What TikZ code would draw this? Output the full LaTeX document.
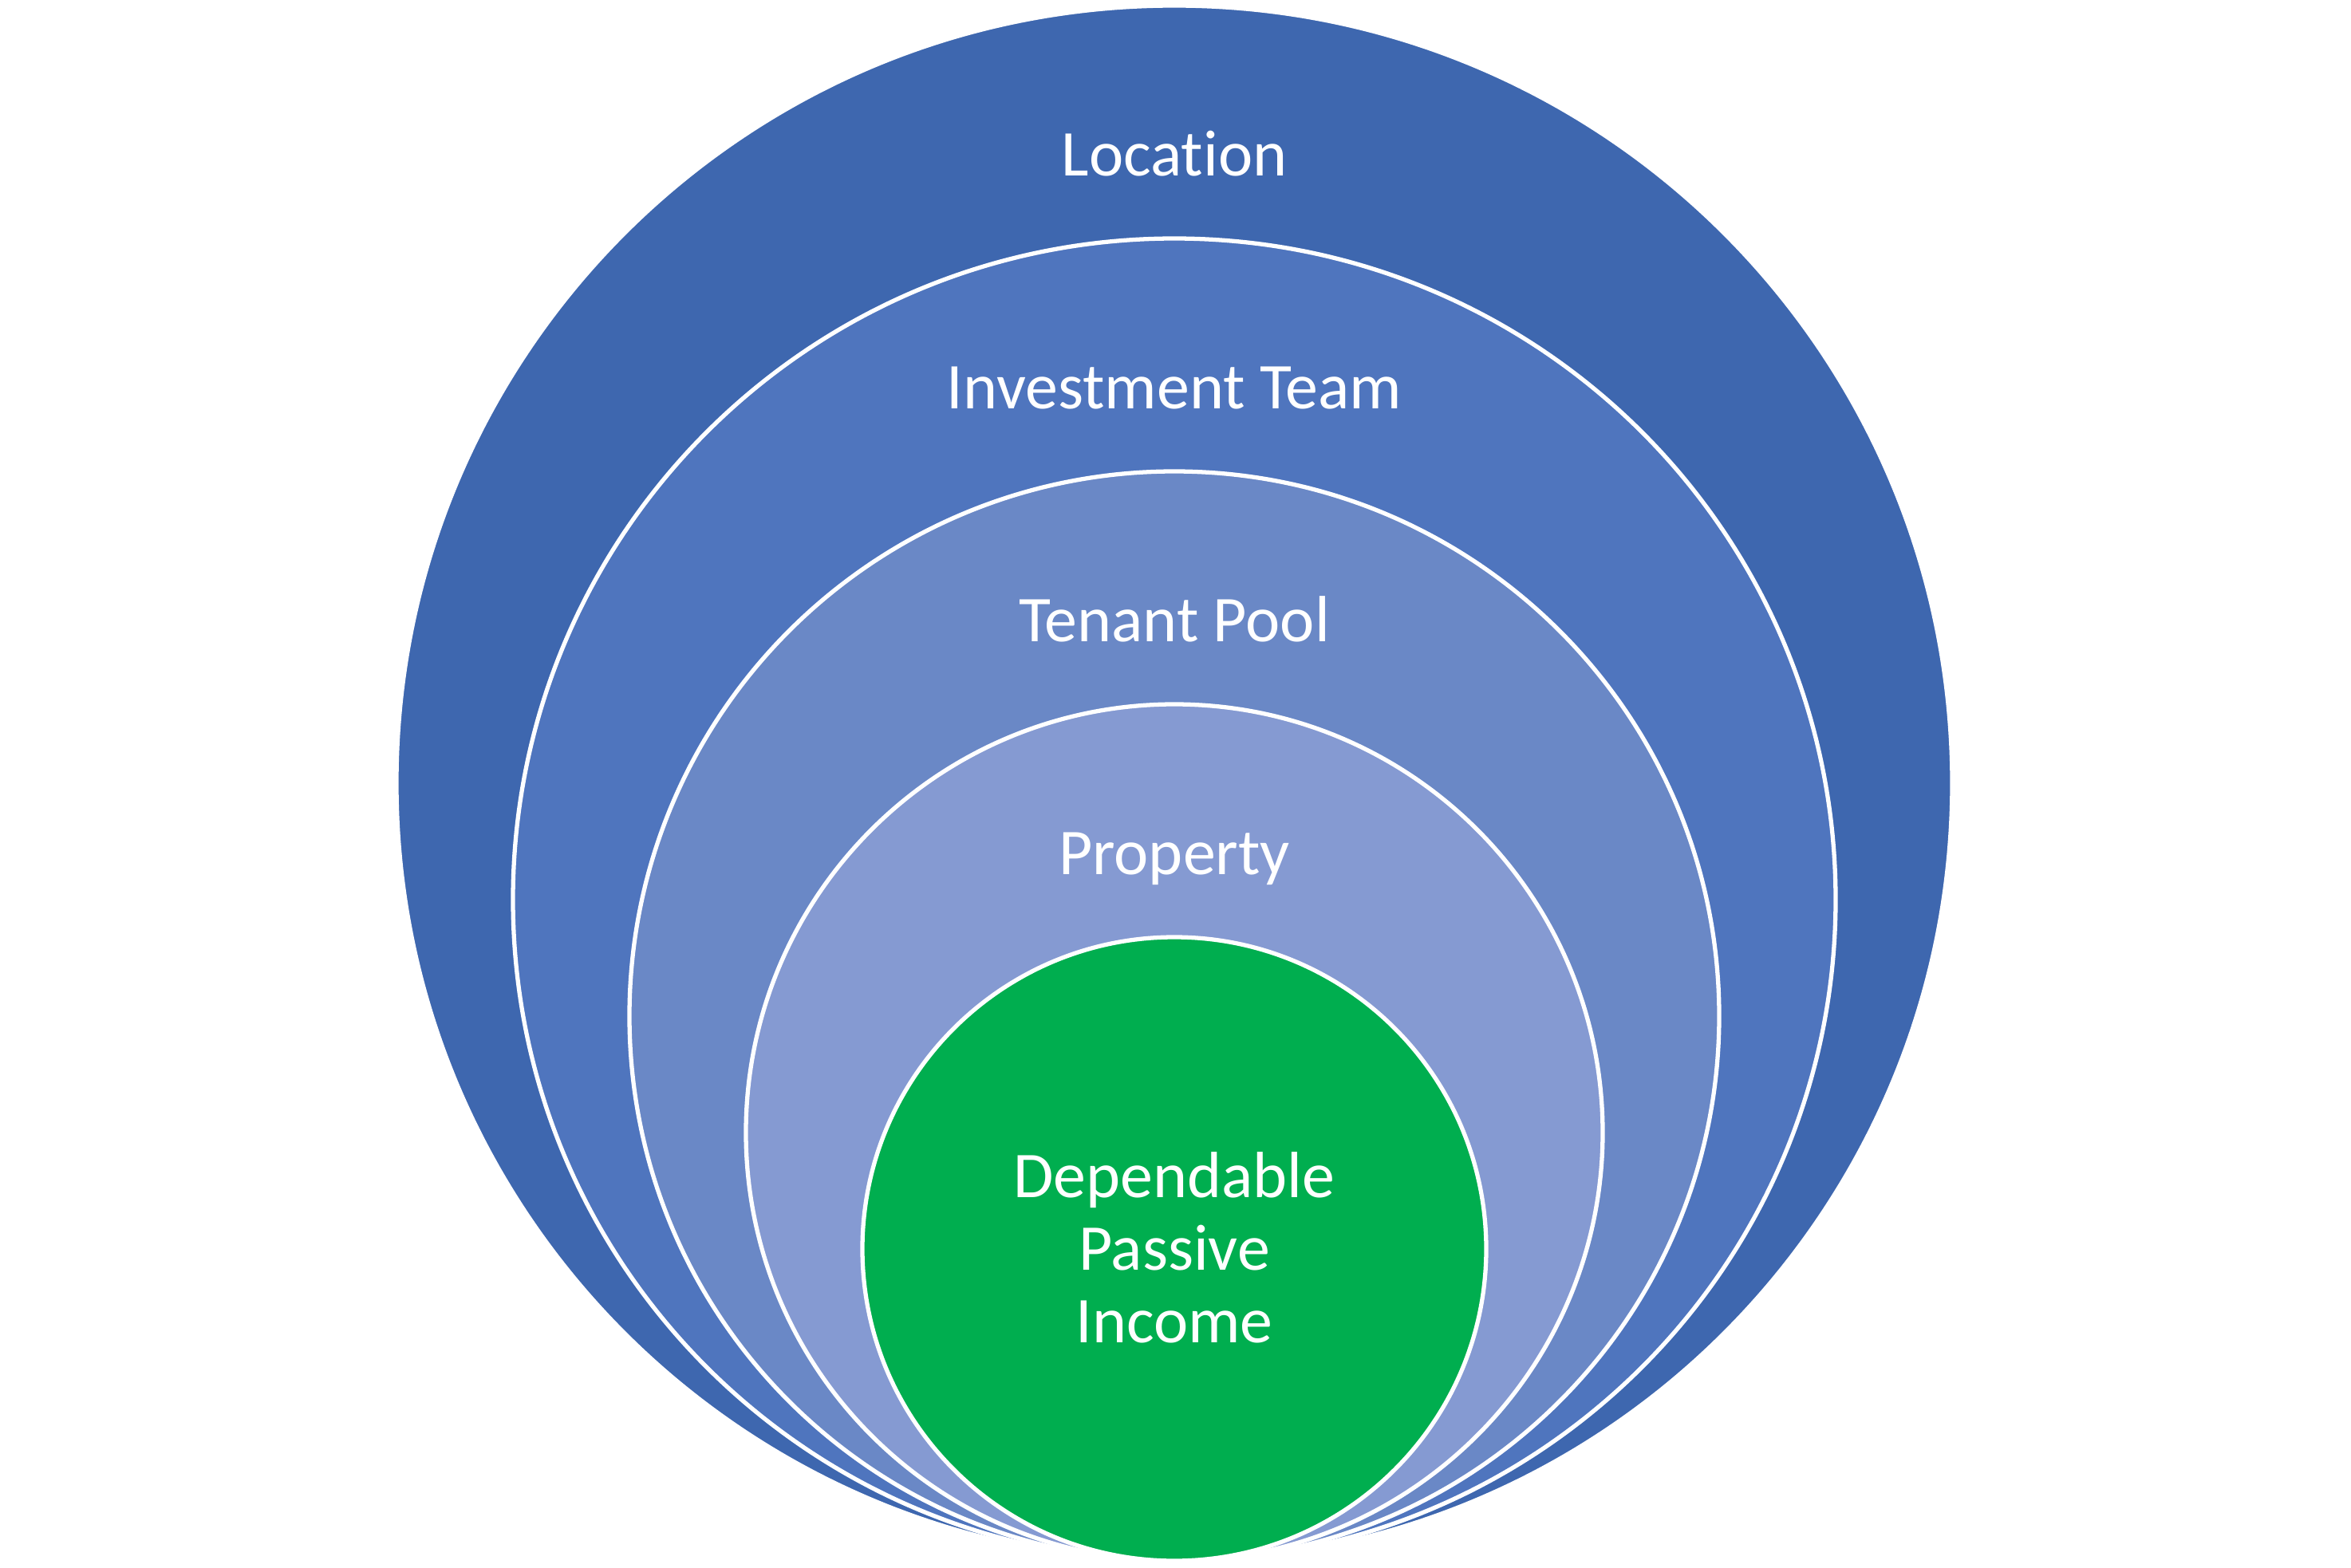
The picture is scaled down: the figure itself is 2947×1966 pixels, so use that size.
\documentclass[tikz,border=0pt]{standalone}
\usepackage{fontspec}
\setmainfont{Carlito}[Ligatures=NoCommon]
\definecolor{ringA}{HTML}{3E67AF}
\definecolor{ringB}{HTML}{4F75BE}
\definecolor{ringC}{HTML}{6A88C6}
\definecolor{ringD}{HTML}{859AD2}
\definecolor{core}{HTML}{00AE4F}
\tikzset{
  ring/.style={draw=white,line width=1.5pt},
  lbl/.style={text=white,font=\fontsize{23.3}{25.9}\selectfont}
}
\begin{document}
\begin{tikzpicture}[x=0.01cm,y=-0.01cm]
  \useasboundingbox (0,0) rectangle (2947,1966);
  % nested rings, all touching at the bottom
  \foreach \i/\col/\txt in {0/ringA/Location,1/ringB/Investment Team,2/ringC/Tenant Pool,3/ringD/Property}{
    \pgfmathsetmacro\r{975-146*\i}
    \fill[\col,ring] (1472,1957-\r) circle (\r);
    \node[lbl,anchor=base] (lbl\i) at (1472,1957-2*\r+213) {\txt};
  }
  \fill[core,ring] (1472,1566) circle (391);
  \node[lbl,align=center] (income) at (1472,1564) {Dependable\\Passive\\Income};
\end{tikzpicture}
\end{document}
